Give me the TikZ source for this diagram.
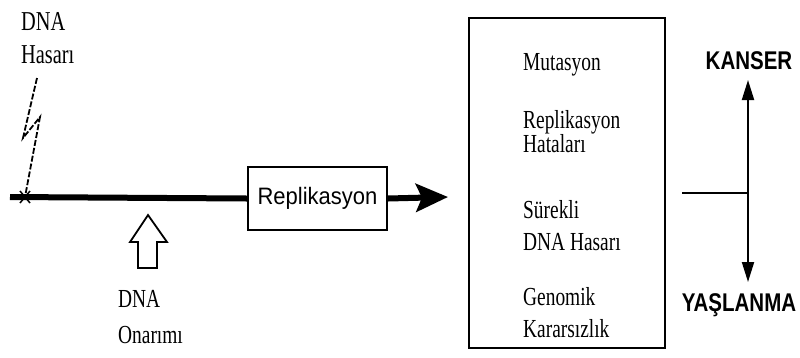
\documentclass[tikz,border=0pt]{standalone}
\usepackage{fontspec}
\setmainfont{Liberation Serif}
\newfontfamily\arialf{Liberation Sans}
\usetikzlibrary{arrows.meta}
\newcommand{\tallt}[1]{\scalebox{0.97}[1.3]{#1}}
\newcommand{\tallb}[1]{\scalebox{1}[1.25]{#1}}
\tikzset{
  lbl/.style={inner sep=0pt, anchor=base west, font=\fontsize{20}{20}\selectfont},
  bigword/.style={inner sep=0pt, font=\arialf\bfseries\fontsize{20.5}{20.5}\selectfont},
  frame/.style={draw=black, line width=2pt}
}
\begin{document}
\begin{tikzpicture}[x=1pt,y=-1pt]
\useasboundingbox[fill=white] (0,0) rectangle (800,357);
% top-left label
\node[lbl,font=\fontsize{21}{21}\selectfont] (dna1) at (21,30) {\tallt{DNA}};
\node[lbl,font=\fontsize{21}{21}\selectfont] (has1) at (21,63) {\tallt{Hasarı}};
% lightning (dashed)
\coordinate (l1) at (37,78);
\coordinate (l2) at (23,138);
\coordinate (l3) at (40,117);
\coordinate (l4) at (25,197);
\draw[line width=1.8pt, dash pattern=on 6pt off 2pt] (l1) -- (l2) -- (l3) -- (l4);
% main line
\coordinate (start) at (10,197);
\node[frame, minimum width=139pt, minimum height=63pt, inner sep=0pt,
      font=\arialf\fontsize{22}{22}\selectfont] (rep) at (317.5,198.5) {\scalebox{1}[1.08]{Replikasyon}};
\coordinate (tip) at (448,197);
\draw[line width=6pt] (start) -- (rep.west);
\draw[line width=6pt, -{Stealth[length=32pt,width=28pt,inset=6pt]}] (rep.east) -- (tip);
% small cross at damage site
\draw[line width=1.5pt] (20,191) -- (30,203) (20,203) -- (30,191);
% hollow up arrow (DNA repair)
\coordinate (at) at (148,215);
\draw[line width=1.8pt, fill=white]
  (at) -- (167,242) -- (157,242) -- (157,268) -- (138,268) -- (138,242) -- (130,242) -- cycle;
\node[lbl] (dna2) at (118,307) {\tallt{DNA}};
\node[lbl] (onr) at (118,343) {\tallt{Onarımı}};
% big box
\node[frame, minimum width=196pt, minimum height=330pt, inner sep=0pt] (box) at (567,183) {};
\node[lbl] (t1) at (523,70) {\tallt{Mutasyon}};
\node[lbl] (t2) at (523,128) {\tallt{Replikasyon}};
\node[lbl] (t3) at (523,152) {\tallt{Hataları}};
\node[lbl] (t4) at (523,218) {\tallt{Sürekli}};
\node[lbl] (t5) at (523,250) {\tallt{DNA Hasarı}};
\node[lbl] (t6) at (523,305) {\tallt{Genomik}};
\node[lbl] (t7) at (523,337) {\tallt{Kararsızlık}};
% outcomes
\node[bigword] (kan) at (749,61) {\tallb{KANSER}};
\node[bigword] (yas) at (739,305) {\tallb{YAŞLANMA}};
\coordinate (up) at (748,80);
\coordinate (dn) at (748,282);
\coordinate (mid) at (748,193);
\coordinate (hl) at (682,193);
\draw[line width=2pt, {Triangle[length=20pt,width=12pt]}-{Triangle[length=20pt,width=12pt]}] (up) -- (dn);
\draw[line width=2pt] (hl) -- (mid);
\end{tikzpicture}
\end{document}
